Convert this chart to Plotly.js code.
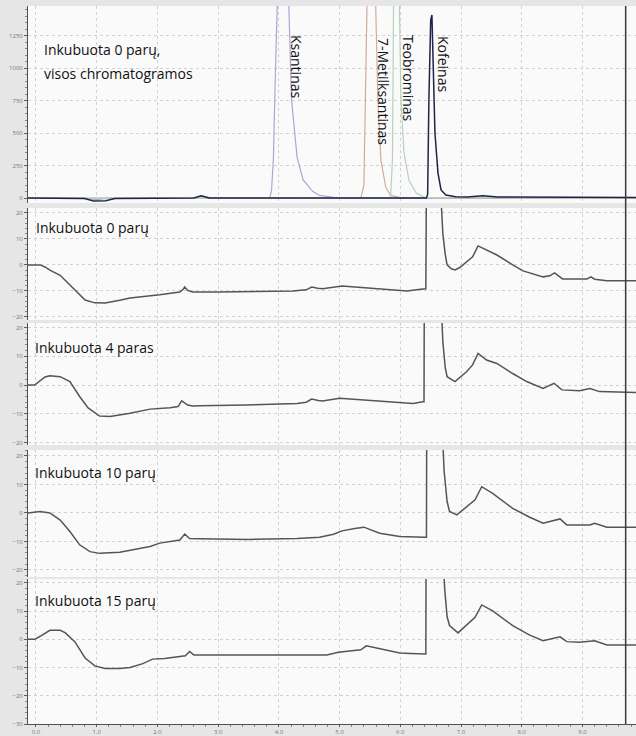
<!DOCTYPE html>
<html>
<head>
<meta charset="utf-8">
<script src="https://cdn.plot.ly/plotly-3.0.1.min.js"></script>
<style>
  html, body { margin: 0; padding: 0; background: #ffffff; }
  #chart { width: 636px; height: 736px; }
</style>
</head>
<body>
<div id="chart"></div>
<script>
// ---------- DATA (time in minutes, signal values) ----------
// Panel 1: "Inkubuota 0 parų, visos chromatogramos" (standards)
const tKsantinas = [-0.13, 0.8, 1.0, 1.2, 2.6, 2.75, 2.9, 3.85, 3.88, 3.91, 3.94, 3.97, 4.06, 4.15, 4.21, 4.30, 4.40, 4.56, 4.67, 4.9, 6.0, 9.88];
const vKsantinas = [0, 0, -12, 0, 0, 15, 0, 0, 60, 300, 900, 1700, 3000, 1700, 750, 315, 140, 50, 20, 5, 0, 0];

const tMetilksantinas = [-0.13, 5.35, 5.40, 5.43, 5.47, 5.52, 5.58, 5.63, 5.68, 5.76, 5.84, 6.0, 9.88];
const vMetilksantinas = [0, 0, 100, 900, 2000, 3000, 1700, 754, 292, 85, 20, 3, 0];

const tTeobrominas = [-0.13, 5.84, 5.87, 5.89, 5.93, 5.98, 6.01, 6.06, 6.14, 6.26, 6.4, 9.88];
const vTeobrominas = [0, 0, 300, 1600, 3000, 1700, 754, 350, 138, 38, 5, 0];

const tKofeinas = [-0.13, 0.8, 0.95, 1.15, 1.3, 2.6, 2.72, 2.85, 6.43, 6.45, 6.47, 6.50, 6.52, 6.54, 6.57, 6.62, 6.67, 6.75, 6.91, 7.1, 7.36, 7.6, 9.88];
const vKofeinas = [0, -3, -22, -20, -3, 0, 18, 0, 0, 30, 754, 1369, 1408, 1100, 500, 192, 62, 23, 10, 8, 18, 8, 5];

// Panel 2: Inkubuota 0 parų
const t0 = [-0.13, 0.07, 0.15, 0.23, 0.40, 0.52, 0.64, 0.81, 0.97, 1.14, 1.38, 1.55, 2.04, 2.37, 2.42, 2.45, 2.50, 2.58, 3.0, 3.52, 3.80, 4.23, 4.45, 4.54, 4.64, 4.72, 5.04, 5.45, 5.99, 6.11, 6.30, 6.42, 6.44, 6.60, 6.66, 6.70, 6.74, 6.77, 6.84, 6.90, 6.98, 7.09, 7.19, 7.28, 7.42, 7.59, 7.85, 8.02, 8.35, 8.46, 8.54, 8.67, 9.07, 9.14, 9.20, 9.40, 9.88];
const v0 = [0, 0, -0.8, -2, -4, -6.8, -9.6, -13.5, -14.6, -14.7, -13.6, -12.7, -11.5, -10.4, -9.5, -8.5, -9.8, -10.4, -10.4, -10.2, -10, -10, -9.6, -8.5, -9.0, -9.2, -8.1, -8.8, -9.6, -10, -9.5, -9.2, 80, 80, 30, 12, 4, 0, -1.5, -1.9, -1, 1.2, 3.1, 7.3, 5.8, 3.8, 0, -2.3, -4.6, -4.2, -3.1, -5.4, -5.4, -4.6, -5.5, -6.1, -6.1];

// Panel 3: Inkubuota 4 paras
const t4 = [-0.13, -0.02, 0.15, 0.23, 0.40, 0.56, 0.72, 0.86, 1.05, 1.22, 1.55, 1.88, 2.21, 2.34, 2.40, 2.50, 2.58, 2.70, 3.47, 4.30, 4.45, 4.54, 4.65, 4.72, 5.00, 5.45, 5.99, 6.21, 6.37, 6.39, 6.40, 6.60, 6.66, 6.70, 6.74, 6.77, 6.90, 7.09, 7.19, 7.28, 7.42, 7.59, 7.85, 8.08, 8.35, 8.53, 8.66, 8.95, 9.12, 9.28, 9.88];
const v4 = [0, 0, 2.8, 3.2, 2.9, 1.2, -4, -8, -10.8, -11, -9.8, -8.4, -7.9, -7.5, -5.5, -7, -7.3, -7.2, -7, -6.4, -6.0, -4.9, -5.4, -5.6, -4.6, -5.2, -6, -6.4, -5.8, -5.8, 80, 80, 35, 15, 6, 2.9, 1.2, 4.6, 7, 11, 8.7, 7.5, 4, 1.2, -1.2, 0.6, -1.7, -2, -1.2, -2.3, -2.6];

// Panel 4: Inkubuota 10 parų
const t10 = [-0.13, 0.07, 0.23, 0.40, 0.56, 0.72, 0.89, 1.05, 1.38, 1.71, 1.88, 2.04, 2.29, 2.37, 2.45, 2.53, 2.70, 3.5, 4.3, 4.67, 4.9, 5.04, 5.25, 5.40, 5.66, 5.99, 6.40, 6.43, 6.44, 6.62, 6.68, 6.72, 6.77, 6.81, 6.93, 7.09, 7.23, 7.34, 7.52, 7.85, 8.13, 8.35, 8.63, 8.74, 9.12, 9.20, 9.40, 9.88];
const v10 = [0, 0.5, 0, -2.5, -6.5, -11.2, -13.6, -14.2, -13.8, -12.4, -11.8, -10.6, -9.8, -9.5, -7.4, -9, -9.1, -9.3, -9.0, -8.5, -7.5, -6.3, -5.5, -5, -7.1, -8.3, -8.5, -8.5, 80, 80, 35, 15, 4, 0.5, -0.7, 2.2, 4.6, 9.2, 6.9, 1.6, -1.5, -3.6, -2.1, -4.2, -4.2, -3.6, -5, -5];

// Panel 5: Inkubuota 15 parų
const t15 = [-0.13, -0.02, 0.07, 0.23, 0.40, 0.48, 0.64, 0.81, 0.97, 1.14, 1.38, 1.55, 1.76, 1.92, 2.12, 2.28, 2.46, 2.53, 2.60, 3.14, 4.13, 4.79, 4.98, 5.25, 5.35, 5.44, 5.64, 5.84, 5.99, 6.17, 6.40, 6.42, 6.43, 6.62, 6.68, 6.73, 6.77, 6.81, 6.95, 7.09, 7.23, 7.34, 7.52, 7.85, 8.13, 8.35, 8.63, 8.74, 8.95, 9.20, 9.40, 9.88];
const v15 = [0, 0, 1.1, 3.2, 3.2, 2.4, -0.8, -6.6, -9.4, -10.3, -10.3, -10, -8.6, -7, -6.8, -6.4, -5.8, -4.3, -5.5, -5.5, -5.5, -5.5, -4.6, -3.8, -3.7, -2.3, -3.2, -4, -4.8, -5, -5.2, -5.2, 80, 80, 40, 18, 8, 4.9, 2.3, 4.9, 7.8, 12.2, 10.1, 4.9, 1.5, -0.5, 0.9, -0.8, -1, -0.5, -2, -2];

// Text labels
const topTitle = ["Inkubuota 0 parų,", "visos chromatogramos"];
const peakNames = ["Ksantinas", "7-Metilksantinas", "Teobrominas", "Kofeinas"];
const panelNames = ["Inkubuota 0 parų", "Inkubuota 4 paras", "Inkubuota 10 parų", "Inkubuota 15 parų"];
const cursorTime = 9.71;

// ---------- STYLE / LAYOUT ----------
const lowColor = '#555555';
const traces = [
  {x: tKsantinas, y: vKsantinas, yaxis: 'y', line: {color: '#aaa6d6', width: 1.2}},
  {x: tMetilksantinas, y: vMetilksantinas, yaxis: 'y', line: {color: '#cfaca0', width: 1.2}},
  {x: tTeobrominas, y: vTeobrominas, yaxis: 'y', line: {color: '#b8d2b8', width: 1.2}},
  {x: tKofeinas, y: vKofeinas, yaxis: 'y', line: {color: '#1e2448', width: 1.5}},
  {x: t0, y: v0, yaxis: 'y2', line: {color: lowColor, width: 1.5}},
  {x: t4, y: v4, yaxis: 'y3', line: {color: lowColor, width: 1.5}},
  {x: t10, y: v10, yaxis: 'y4', line: {color: lowColor, width: 1.5}},
  {x: t15, y: v15, yaxis: 'y5', line: {color: lowColor, width: 1.5}}
].map(t => Object.assign({type: 'scatter', mode: 'lines', xaxis: 'x', hoverinfo: 'skip'}, t));

function yAxis(domain, range, dtick, minorDtick) {
  return {
    domain: domain, range: range, anchor: 'x',
    dtick: dtick, tick0: 0,
    showgrid: true, gridcolor: '#d2d2d2', griddash: 'dot', gridwidth: 1,
    zeroline: false, showline: true, linecolor: '#505050', linewidth: 1,
    ticks: 'outside', ticklen: 3, tickcolor: '#606060', tickwidth: 1,
    tickfont: {size: 6, color: '#777', family: 'Open Sans'},
    minor: {ticks: 'outside', ticklen: 2, dtick: minorDtick, tick0: 0, tickcolor: '#888', showgrid: false},
    fixedrange: true
  };
}

const B = 12;          // bottom margin
const H = 736 - B;     // plot height in px
const py = p => (H - p) / H;          // pixel row -> paper y
const px = p => (p - 28) / 608;       // pixel col -> paper x

const annotations = [];
annotations.push({text: topTitle[0], x: px(42), y: py(50), xref: 'paper', yref: 'paper', xanchor: 'left', yanchor: 'middle', showarrow: false, font: {size: 14, color: '#111', family: 'Open Sans'}});
annotations.push({text: topTitle[1], x: px(42), y: py(73), xref: 'paper', yref: 'paper', xanchor: 'left', yanchor: 'middle', showarrow: false, font: {size: 14, color: '#111', family: 'Open Sans'}});
const peakPos = [[297, 66], [384, 91], [409, 78], [444, 64]];
peakNames.forEach((n, i) => annotations.push({text: n, textangle: 90, x: px(peakPos[i][0]), y: py(peakPos[i][1]), xref: 'paper', yref: 'paper', xanchor: 'center', yanchor: 'middle', showarrow: false, font: {size: 14, color: '#111', family: 'Open Sans'}}));
const panelPos = [[34, 227], [33, 347], [33, 472], [33, 600]];
panelNames.forEach((n, i) => annotations.push({text: n, x: px(panelPos[i][0]), y: py(panelPos[i][1]), xref: 'paper', yref: 'paper', xanchor: 'left', yanchor: 'middle', showarrow: false, font: {size: 14, color: '#111', family: 'Open Sans'}}));

const layout = {
  width: 636, height: 736,
  margin: {l: 28, r: 0, t: 0, b: B, pad: 0},
  paper_bgcolor: '#e6e6e6', plot_bgcolor: '#fafafa',
  showlegend: false,
  xaxis: {
    domain: [0, 1], anchor: 'y5', range: [-0.13, 9.88],
    dtick: 1, tick0: 0, tickformat: '.1f',
    showgrid: true, gridcolor: '#d2d2d2', griddash: 'dot',
    zeroline: false, showline: true, linecolor: '#505050',
    ticks: 'outside', ticklen: 2, tickcolor: '#606060',
    tickfont: {size: 6, color: '#777', family: 'Open Sans'},
    minor: {ticks: 'outside', ticklen: 2, dtick: 0.2, tick0: 0, tickcolor: '#888', showgrid: false},
    fixedrange: true
  },
  yaxis: yAxis([py(203), py(6)], [-38, 1477], 250, 50),
  yaxis2: yAxis([py(320), py(208)], [-21.2, 21.9], 10, 2),
  yaxis3: yAxis([py(445), py(323)], [-20.9, 21.6], 10, 2),
  yaxis4: yAxis([py(577), py(450)], [-22.5, 22.1], 10, 2),
  yaxis5: yAxis([0, py(579)], [-30, 21.4], 10, 2),
  shapes: [
    {type: 'line', xref: 'x', yref: 'paper', x0: cursorTime, x1: cursorTime, y0: 0, y1: py(6), line: {color: '#3a3a3a', width: 1.5}}
  ],
  annotations: annotations
};

Plotly.newPlot('chart', traces, layout, {staticPlot: true, displayModeBar: false});
</script>
</body>
</html>
